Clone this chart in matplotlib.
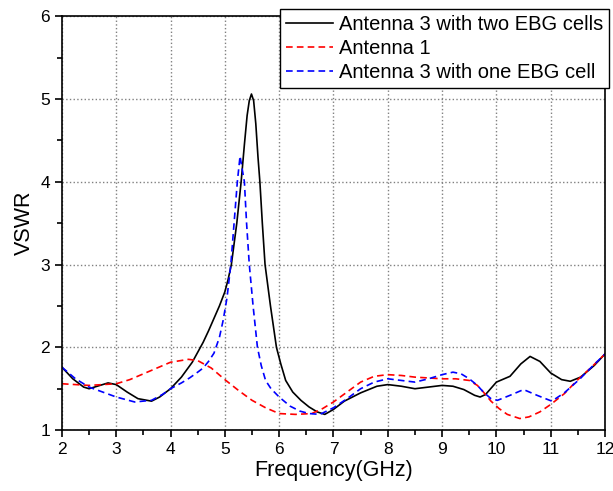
import matplotlib
matplotlib.use("Agg")
import matplotlib.pyplot as plt
from matplotlib.ticker import MultipleLocator

plt.rcParams['font.family'] = ['Liberation Sans', 'DejaVu Sans']

# Antenna 3 with two EBG cells (black solid)
f_two = [2.0, 2.2, 2.4, 2.5, 2.65, 2.85, 3.0, 3.2, 3.4, 3.65, 3.8, 4.0, 4.2, 4.4,
         4.5, 4.6, 4.7, 4.8, 4.9, 5.0, 5.06, 5.12, 5.22, 5.30, 5.36, 5.41, 5.45,
         5.49, 5.53, 5.57, 5.61, 5.645, 5.69, 5.74, 5.84, 5.95, 6.03, 6.12, 6.25,
         6.4, 6.55, 6.7, 6.84, 7.0, 7.2, 7.5, 7.8, 8.0, 8.25, 8.5, 8.75, 9.0,
         9.2, 9.4, 9.6, 9.7, 9.8, 10.0, 10.25, 10.45, 10.62, 10.8, 11.0, 11.2,
         11.36, 11.55, 11.8, 12.0]
v_two = [1.76, 1.62, 1.52, 1.50, 1.53, 1.57, 1.55, 1.46, 1.38, 1.35, 1.40, 1.50,
         1.64, 1.82, 1.94, 2.06, 2.20, 2.35, 2.50, 2.67, 2.82, 3.00, 3.50, 4.00,
         4.45, 4.80, 4.98, 5.06, 4.98, 4.70, 4.30, 4.00, 3.50, 3.00, 2.50, 2.00,
         1.80, 1.60, 1.46, 1.36, 1.28, 1.22, 1.19, 1.25, 1.35, 1.45, 1.53, 1.55,
         1.53, 1.50, 1.52, 1.54, 1.53, 1.49, 1.42, 1.40, 1.43, 1.58, 1.65, 1.80,
         1.89, 1.83, 1.69, 1.61, 1.59, 1.64, 1.78, 1.92]

# Antenna 1 (red dashed)
f_ant1 = [2.0, 2.5, 3.0, 3.25, 3.5, 3.75, 4.0, 4.33, 4.5, 4.75, 5.0, 5.25, 5.5,
          5.75, 6.0, 6.3, 6.6, 6.8, 7.0, 7.25, 7.5, 7.75, 8.0, 8.25, 8.5, 8.75,
          9.0, 9.25, 9.5, 9.65, 9.76, 9.9, 10.05, 10.2, 10.43, 10.6, 10.8, 11.0,
          11.25, 11.5, 11.75, 12.0]
v_ant1 = [1.56, 1.54, 1.56, 1.61, 1.68, 1.75, 1.82, 1.855, 1.84, 1.75, 1.61,
          1.48, 1.36, 1.27, 1.20, 1.19, 1.20, 1.26, 1.34, 1.46, 1.58, 1.65, 1.67,
          1.66, 1.64, 1.63, 1.62, 1.62, 1.60, 1.54, 1.46, 1.35, 1.26, 1.19, 1.14,
          1.16, 1.22, 1.31, 1.44, 1.61, 1.76, 1.92]

# Antenna 3 with one EBG cell (blue dashed)
f_one = [2.0, 2.25, 2.5, 2.75, 3.0, 3.34, 3.65, 3.85, 4.0, 4.2, 4.35, 4.5, 4.6,
         4.7, 4.8, 4.9, 4.97, 5.04, 5.11, 5.17, 5.23, 5.28, 5.32, 5.36, 5.40,
         5.45, 5.52, 5.60, 5.67, 5.75, 5.85, 6.0, 6.2, 6.38, 6.55, 6.75, 7.0,
         7.25, 7.5, 7.75, 8.0, 8.25, 8.5, 8.75, 9.0, 9.2, 9.35, 9.5, 9.65, 9.76,
         9.9, 10.02, 10.25, 10.5, 10.75, 11.02, 11.25, 11.54, 11.75, 12.0]
v_one = [1.76, 1.62, 1.52, 1.46, 1.40, 1.34, 1.36, 1.43, 1.50, 1.57, 1.63, 1.70,
         1.75, 1.83, 1.93, 2.12, 2.33, 2.60, 3.00, 3.50, 4.00, 4.31, 4.15, 4.00,
         3.50, 3.00, 2.50, 2.00, 1.78, 1.60, 1.50, 1.40, 1.29, 1.23, 1.20, 1.19,
         1.27, 1.38, 1.50, 1.58, 1.62, 1.60, 1.58, 1.62, 1.67, 1.70, 1.68, 1.62,
         1.54, 1.46, 1.38, 1.36, 1.42, 1.49, 1.42, 1.35, 1.45, 1.62, 1.76, 1.92]

fig = plt.figure(figsize=(6.13, 4.91), dpi=100)
ax = fig.add_axes([0.101, 0.124, 0.886, 0.843])

ax.plot(f_two, v_two, color='black', lw=1.2, label='Antenna 3 with two EBG cells')
ax.plot(f_ant1, v_ant1, color='red', lw=1.2, ls=(0, (4, 2.5)), label='Antenna 1')
ax.plot(f_one, v_one, color='blue', lw=1.2, ls=(0, (4, 2.5)),
        label='Antenna 3 with one EBG cell')

ax.set_xlim(2, 12)
ax.set_ylim(1, 6)
ax.xaxis.set_major_locator(MultipleLocator(1))
ax.xaxis.set_minor_locator(MultipleLocator(0.5))
ax.yaxis.set_major_locator(MultipleLocator(1))
ax.yaxis.set_minor_locator(MultipleLocator(0.5))
ax.tick_params(which='major', direction='out', length=5, width=1.2, labelsize=12.5)
ax.tick_params(which='minor', direction='out', length=3.5, width=1.2)
ax.grid(True, which='major', color='gray', ls=':', lw=1)
for s in ax.spines.values():
    s.set_linewidth(1.2)

ax.set_xlabel('Frequency(GHz)', fontsize=15.5, labelpad=2)
ax.set_ylabel('VSWR', fontsize=15.5, labelpad=4)

leg = ax.legend(loc='upper right', bbox_to_anchor=(0.994, 0.981),
                bbox_transform=fig.transFigure, fontsize=14.5, fancybox=False,
                framealpha=1, edgecolor='black', handlelength=2.35,
                handletextpad=0.3, borderpad=0.3, labelspacing=0.25,
                borderaxespad=0)
leg.get_frame().set_linewidth(1.0)

fig.savefig('out.png', dpi=100)
